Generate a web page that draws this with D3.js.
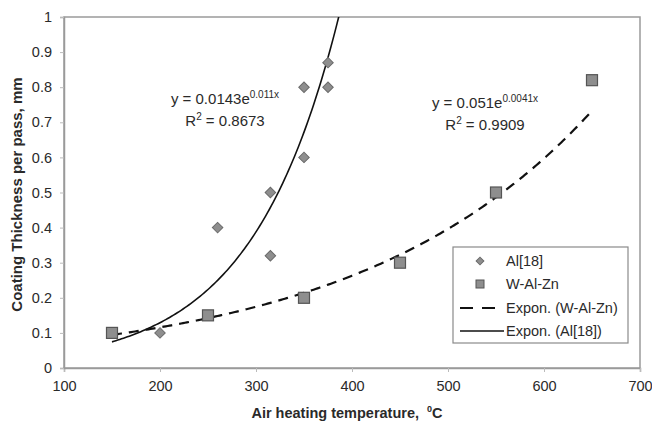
<!DOCTYPE html>
<html><head><meta charset="utf-8">
<script src="https://cdn.jsdelivr.net/npm/d3@7"></script>
<style>
body{margin:0;background:#fff;}
text{font-family:"Liberation Sans",Arial,sans-serif;fill:#2a2a2a;}
</style></head>
<body><svg id="c" width="652" height="430"></svg>
<script>
// Data
const alX = [200, 260, 315, 315, 350, 350, 375, 375];
const alY = [0.10, 0.40, 0.50, 0.32, 0.60, 0.80, 0.80, 0.87];
const wX = [150, 250, 350, 450, 550, 650];
const wY = [0.10, 0.15, 0.20, 0.30, 0.50, 0.82];
// Trendline coefficients as printed on the chart: y = a*e^(b*x)
const alFit = {a: 0.0143, b: 0.011, r2: "0.8673", from: 150, to: 400};
const wFit = {a: 0.051, b: 0.0041, r2: "0.9909", from: 150, to: 650};
const xTicks = [100, 200, 300, 400, 500, 600, 700];
const yTicks = [0, 0.1, 0.2, 0.3, 0.4, 0.5, 0.6, 0.7, 0.8, 0.9, 1];
const legendLabels = ["Al[18]", "W-Al-Zn", "Expon. (W-Al-Zn)", "Expon. (Al[18])"];

const svg = d3.select("#c");
const L = 64, R = 640, T = 17, B = 368;
const x = d3.scaleLinear().domain([100, 700]).range([L, R]);
const y = d3.scaleLinear().domain([0, 1]).range([B, T]);

// plot border
svg.append("rect").attr("x", L).attr("y", T).attr("width", R - L).attr("height", B - T)
  .attr("fill", "none").attr("stroke", "#9a9a9a").attr("stroke-width", 1.5);

// axes
const xa = svg.append("g").attr("transform", `translate(0,${B})`)
  .call(d3.axisBottom(x).tickValues(xTicks).tickSize(4).tickPadding(9).tickFormat(d3.format("d")));
const ya = svg.append("g").attr("transform", `translate(${L},0)`)
  .call(d3.axisLeft(y).tickValues(yTicks).tickSize(4).tickPadding(8).tickFormat(d => d === 0 ? "0" : d === 1 ? "1" : d3.format(".1f")(d)));
[xa, ya].forEach(g => {
  g.select(".domain").attr("stroke", "#9a9a9a").attr("stroke-width", 1.5);
  g.selectAll(".tick line").attr("stroke", "#bbb");
  g.selectAll(".tick text").attr("font-size", 14.5).attr("fill", "#2a2a2a")
    .attr("font-family", "Liberation Sans, Arial, sans-serif");
});

// axis titles
const xt = svg.append("text").attr("x", 347).attr("y", 418).attr("text-anchor", "middle")
  .attr("font-size", 14.5).attr("font-weight", "bold");
xt.append("tspan").text("Air heating temperature,\u00a0\u00a0");
xt.append("tspan").text("0").attr("font-size", 9).attr("dy", -6);
xt.append("tspan").text("C").attr("dy", 6);

svg.append("text").attr("transform", `translate(22,${(T + B) / 2 + 2}) rotate(-90)`)
  .attr("text-anchor", "middle").attr("font-size", 15).attr("font-weight", "bold")
  .text("Coating Thickness per pass, mm");

// trend lines
svg.append("clipPath").attr("id", "pc").append("rect")
  .attr("x", L).attr("y", T).attr("width", R - L).attr("height", B - T);
function fitPts(f) {
  return d3.range(f.from, f.to + 0.001, 2).map(v => [v, f.a * Math.exp(f.b * v)]);
}
const line = d3.line().x(d => x(d[0])).y(d => y(d[1]));
svg.append("path").attr("d", line(fitPts(wFit))).attr("fill", "none").attr("stroke", "#111")
  .attr("stroke-width", 2.2).attr("stroke-dasharray", "10,7").attr("clip-path", "url(#pc)");
svg.append("path").attr("d", line(fitPts(alFit))).attr("fill", "none").attr("stroke", "#111")
  .attr("stroke-width", 1.6).attr("clip-path", "url(#pc)");

// markers
const diamond = d3.symbol().type(d3.symbolSquare).size(55);
svg.selectAll(".al").data(alX).join("path")
  .attr("d", diamond)
  .attr("transform", (d, i) => `translate(${x(d)},${y(alY[i])}) rotate(45)`)
  .attr("fill", "#8e8e8e").attr("stroke", "#6a6a6a").attr("stroke-width", 1);
svg.selectAll(".w").data(wX).join("rect")
  .attr("x", d => x(d) - 5.5).attr("y", (d, i) => y(wY[i]) - 5.5)
  .attr("width", 11).attr("height", 11)
  .attr("fill", "#8e8e8e").attr("stroke", "#555").attr("stroke-width", 1.2);

// equations
function eq(xc, yc, f, a, b) {
  const t = svg.append("text").attr("x", xc).attr("y", yc).attr("text-anchor", "middle").attr("font-size", 15);
  t.append("tspan").text(`y = ${a}e`);
  t.append("tspan").text(`${b}x`).attr("font-size", 10).attr("dy", -6);
  const r = svg.append("text").attr("x", xc).attr("y", yc + 22).attr("text-anchor", "middle").attr("font-size", 15);
  r.append("tspan").text("R");
  r.append("tspan").text("2").attr("font-size", 10).attr("dy", -6);
  r.append("tspan").text(` = ${f.r2}`).attr("dy", 6);
}
eq(225, 104, alFit, "0.0143", "0.011");
eq(485, 108, wFit, "0.051", "0.0041");

// legend
const lg = svg.append("g");
lg.append("rect").attr("x", 453).attr("y", 247).attr("width", 175).attr("height", 96)
  .attr("fill", "#fff").attr("stroke", "#8a8a8a").attr("stroke-width", 1.2);
const rows = [261, 284, 308, 331];
legendLabels.forEach((lab, i) => {
  lg.append("text").attr("x", 506).attr("y", rows[i] + 5).attr("font-size", 14.5).text(lab);
});
lg.append("path").attr("d", d3.symbol().type(d3.symbolSquare).size(30))
  .attr("transform", `translate(480,${rows[0]}) rotate(45)`)
  .attr("fill", "#8e8e8e").attr("stroke", "#6a6a6a");
lg.append("rect").attr("x", 476).attr("y", rows[1] - 4).attr("width", 8).attr("height", 8)
  .attr("fill", "#8e8e8e").attr("stroke", "#555");
lg.append("line").attr("x1", 460).attr("x2", 504).attr("y1", rows[2]).attr("y2", rows[2])
  .attr("stroke", "#111").attr("stroke-width", 2.2).attr("stroke-dasharray", "13,9");
lg.append("line").attr("x1", 460).attr("x2", 504).attr("y1", rows[3]).attr("y2", rows[3])
  .attr("stroke", "#111").attr("stroke-width", 1.6);
</script></body></html>
